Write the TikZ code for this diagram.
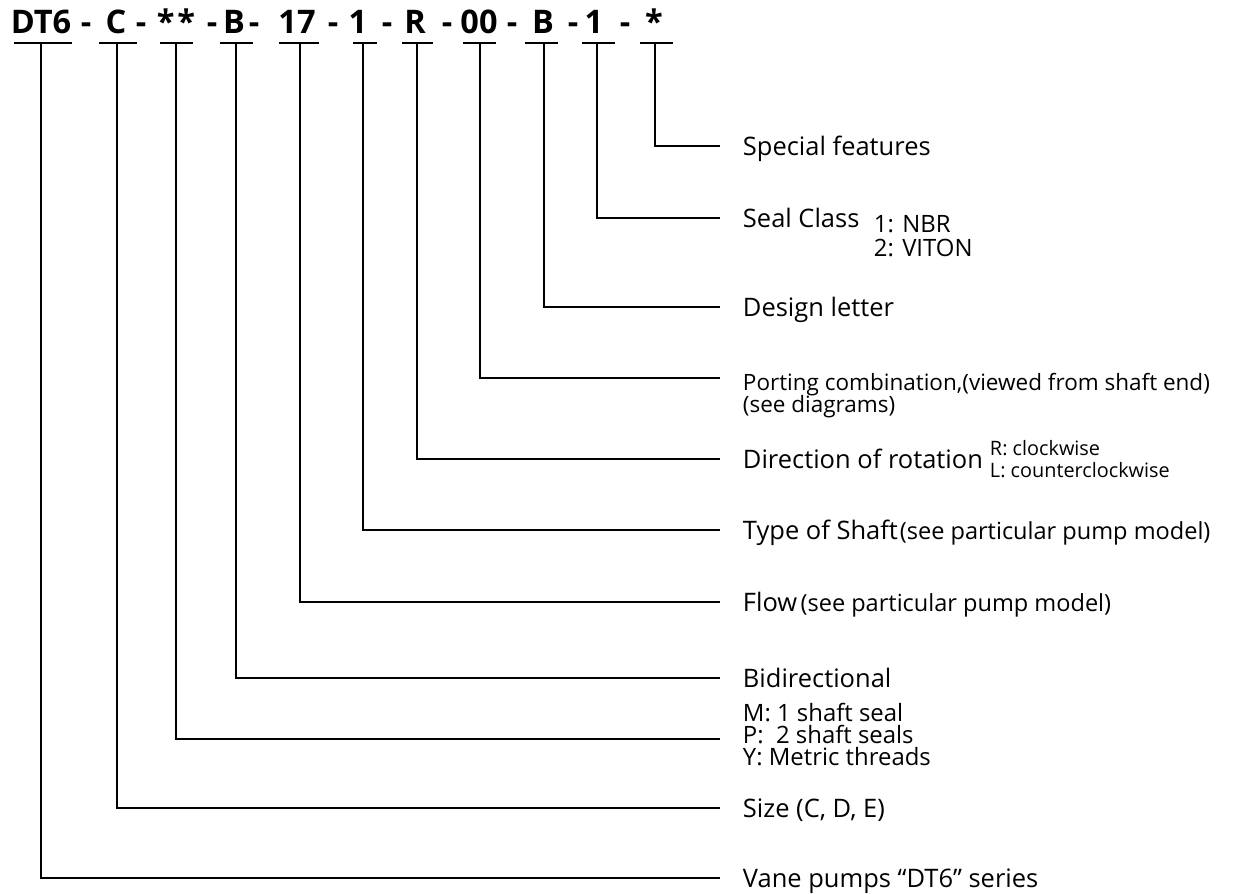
\documentclass[tikz,border=0pt]{standalone}
\usepackage{fontspec}
\setmainfont{Open Sans}
\usetikzlibrary{positioning}

\begin{document}
\begin{tikzpicture}[x=0.02cm, y=-0.02cm, line width=1.1pt,
  code/.style={font=\fontsize{18.5}{20}\selectfont\bfseries, inner sep=0pt, anchor=base},
  desc/.style={font=\fontsize{14.5}{17}\selectfont, inner sep=0pt, anchor=base west},
  note/.style={font=\fontsize{13.4}{15}\selectfont, inner sep=0pt, anchor=base west},
  opt/.style={font=\fontsize{13.6}{15}\selectfont, inner sep=0pt, anchor=base west,
    text height=0.72em, text depth=0.2em},
  tiny/.style={font=\fontsize{11.3}{13}\selectfont, inner sep=0pt, anchor=base west,
    text height=0.72em, text depth=0.2em}]
\useasboundingbox (0,0) rectangle (1250,893);

% type code
\node[code] (k1) at (41,33) {DT6};
\node[code] (k2) at (116,33) {C};
\node[code] (k3) at (176,33) {*\kern1.5pt*};
\node[code] (k4) at (234,33) {B};
\node[code] (k5) at (297,33) {17};
\node[code] (k6) at (358,33) {1};
\node[code] (k7) at (415,33) {R};
\node[code] (k8) at (479,33) {00};
\node[code] (k9) at (543,33) {B};
\node[code] (k10) at (594,33) {1};
\node[code] (k11) at (654,33) {*};
\node[code] (d1) at (86,33) {-};
\node[code] (d2) at (141,33) {-};
\node[code] (d3) at (212,33) {-};
\node[code] (d4) at (254,33) {-};
\node[code] (d5) at (333,33) {-};
\node[code] (d6) at (387,33) {-};
\node[code] (d7) at (447,33) {-};
\node[code] (d8) at (512,33) {-};
\node[code] (d9) at (573,33) {-};
\node[code] (d10) at (625,33) {-};

% underlines
\draw (14,43) -- (72,43);
\draw (99,43) -- (137,43);
\draw (160,43) -- (193,43);
\draw (220,43) -- (253,43);
\draw (279,43) -- (319,43);
\draw (353,43) -- (377,43);
\draw (402,43) -- (433,43);
\draw (463,43) -- (496,43);
\draw (525,43) -- (558,43);
\draw (582,43) -- (615,43);
\draw (640,43) -- (673,43);

\coordinate (b1) at (41,43);
\coordinate (b2) at (117,43);
\coordinate (b3) at (176,43);
\coordinate (b4) at (236,43);
\coordinate (b5) at (300,43);
\coordinate (b6) at (363,43);
\coordinate (b7) at (417,43);
\coordinate (b8) at (480,43);
\coordinate (b9) at (544,43);
\coordinate (b10) at (597,43);
\coordinate (b11) at (655,43);

\coordinate (e1) at (720,878);
\coordinate (e2) at (720,808);
\coordinate (e3) at (720,739);
\coordinate (e4) at (720,678);
\coordinate (e5) at (720,602);
\coordinate (e6) at (720,530);
\coordinate (e7) at (720,459);
\coordinate (e8) at (720,378);
\coordinate (e9) at (720,307);
\coordinate (e10) at (720,218);
\coordinate (e11) at (720,146);

% leaders
\draw (b1) |- (e1);
\draw (b2) |- (e2);
\draw (b3) |- (e3);
\draw (b4) |- (e4);
\draw (b5) |- (e5);
\draw (b6) |- (e6);
\draw (b7) |- (e7);
\draw (b8) |- (e8);
\draw (b9) |- (e9);
\draw (b10) |- (e10);
\draw (b11) |- (e11);

% descriptions
\node[desc] (special) at (742,155) {Special features};
\node[desc] (seal) at (742,227) {Seal Class};
\node[opt] (seal1) at (873,232) {1: NBR};
\node[opt] (seal2) at (873,256) {2: VITON};
\node[desc] (design) at (742,316) {Design letter};
\node[note, font=\fontsize{12.8}{15}\selectfont] (porting) at (742,390) {Porting combination,(viewed from shaft end)};
\node[note, font=\fontsize{12.8}{15}\selectfont] (porting2) at (742,412) {(see diagrams)};
\node[desc] (rotation) at (742,468) {Direction of rotation};
\node[tiny] (rot1) at (989,455) {R: clockwise};
\node[tiny] (rot2) at (989,477) {L: counterclockwise};
\node[desc] (shaft) at (742,539) {Type of Shaft};
\node[note] (shaftnote) at (shaft.base east) {(see particular pump model)};
\node[desc] (flow) at (742,611) {Flow};
\node[note] (flownote) at ([xshift=0.8pt]flow.base east) {(see particular pump model)};
\node[desc] (bidir) at (742,687) {Bidirectional};
\node[opt] (seals1) at (742,721) {M: 1 shaft seal};
\node[opt] (seals2) at (742,743) {P:\ \ 2 shaft seals};
\node[opt] (seals3) at (742,765) {Y: Metric threads};
\node[desc] (size) at (742,817) {Size (C, D, E)};
\node[desc] (series) at (742,887) {Vane pumps “DT6” series};
\end{tikzpicture}
\end{document}
